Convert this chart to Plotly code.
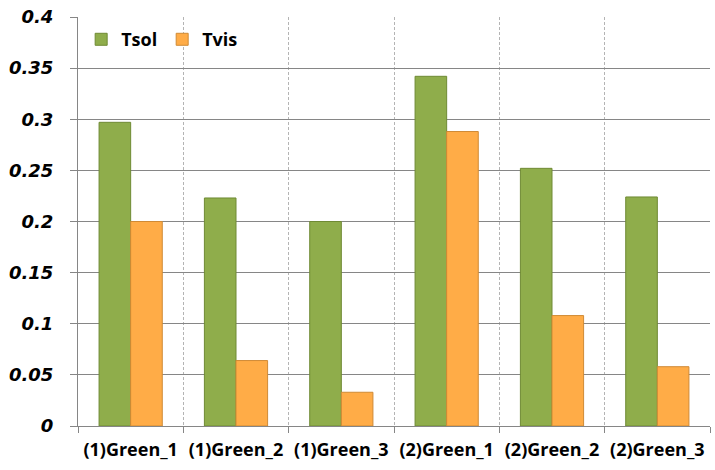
import plotly.graph_objects as go

categories = ["(1)Green_1", "(1)Green_2", "(1)Green_3", "(2)Green_1", "(2)Green_2", "(2)Green_3"]
tsol = [0.297, 0.223, 0.200, 0.342, 0.252, 0.224]
tvis = [0.200, 0.064, 0.033, 0.288, 0.108, 0.058]

fig = go.Figure()
fig.add_trace(go.Bar(x=categories, y=tsol, name="Tsol",
                     marker=dict(color="#8fad4b", line=dict(color="#6f8a34", width=1))))
fig.add_trace(go.Bar(x=categories, y=tvis, name="Tvis",
                     marker=dict(color="#ffac47", line=dict(color="#d08a35", width=1))))

fig.update_layout(
    width=715, height=470,
    margin=dict(l=78, r=5, t=17, b=44),
    paper_bgcolor="white", plot_bgcolor="white",
    barmode="group", bargap=0.4, bargroupgap=0,
    font=dict(family="Open Sans, sans-serif", color="black"),
    legend=dict(orientation="h", x=0.005, y=0.99, xanchor="left", yanchor="top",
                font=dict(size=18, weight="bold", family="Open Sans"),
                bgcolor="rgba(0,0,0,0)", itemwidth=30, tracegroupgap=0),
    showlegend=True,
)
fig.update_xaxes(
    type="category", tickson="boundaries", showgrid=True, griddash="3px,2px",
    gridcolor="#b4b4b4", gridwidth=1, showline=True, linecolor="#868686", linewidth=1,
    ticks="outside", ticklen=6, tickcolor="#868686", ticklabelstandoff=7,
    tickfont=dict(size=18, weight="bold", family="Open Sans"),
)
fig.update_yaxes(
    range=[0, 0.4], dtick=0.05, showgrid=True, gridcolor="#868686", gridwidth=1,
    showline=True, linecolor="#868686", linewidth=1, zeroline=False,
    ticks="outside", ticklen=7, tickcolor="#868686", ticklabelstandoff=13,
    tickfont=dict(size=18, weight="bold", style="italic", family="DejaVu Sans"),
)

fig.write_html("out.html")
